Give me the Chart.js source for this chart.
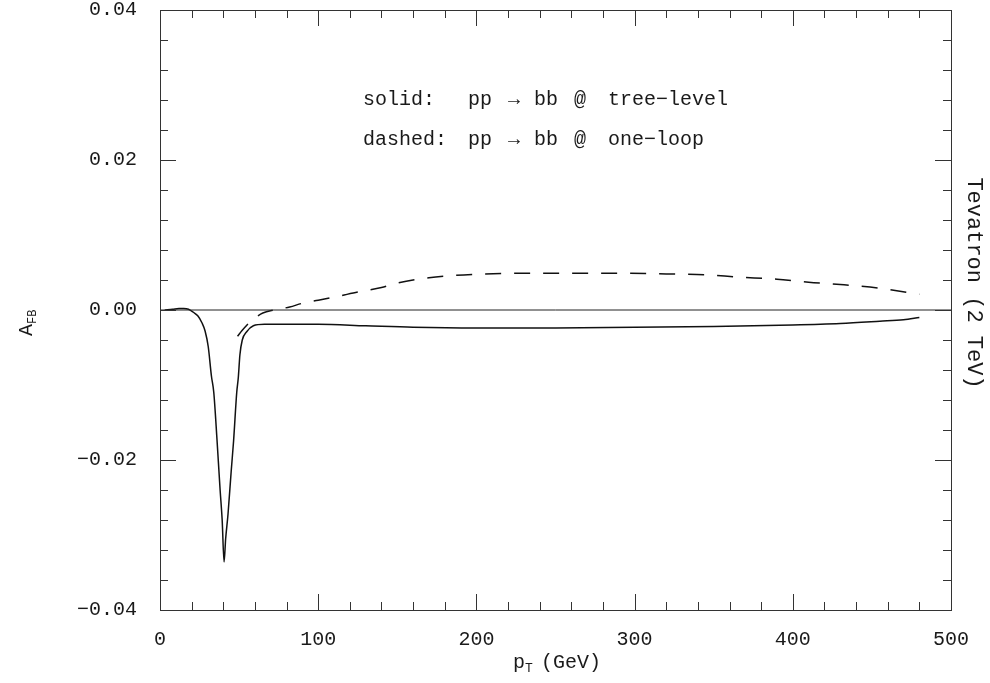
<!DOCTYPE html>
<html>
<head>
<meta charset="utf-8">
<script src="https://cdn.jsdelivr.net/npm/chart.js@4.4.1/dist/chart.umd.min.js"></script>
<style>
  html, body { margin: 0; padding: 0; background: #fff; }
  #wrap { width: 990px; height: 683px; }
</style>
</head>
<body>
<div id="wrap"><canvas id="afbChart" width="990" height="683"></canvas></div>
<script>
// tree-level curve (solid)
const solidPt = [3, 8, 12, 15, 18, 21, 24, 26.5, 28.5, 30.5, 32.5, 34, 36, 38, 39.3, 40.5,
  41.5, 43, 45, 46.5, 48.5, 49.5, 50.5, 52, 54.8, 59, 66, 79, 100, 130, 160, 200, 250, 300,
  350, 400, 430, 455, 470, 480];
const solidAfb = [0.0000, 0.0001, 0.0002, 0.0002, 0.0001, -0.0003, -0.0008, -0.0017, -0.0028,
  -0.0049, -0.0088, -0.0110, -0.0172, -0.0240, -0.0280, -0.0336,
  -0.0305, -0.0272, -0.0215, -0.0175, -0.0110, -0.0090, -0.0060, -0.0040, -0.0029, -0.0021,
  -0.0019, -0.0019, -0.0019, -0.0021, -0.0023, -0.0024, -0.0024, -0.0023,
  -0.0022, -0.0020, -0.0018, -0.0015, -0.0013, -0.0010];

// one-loop curve (dashed)
const dashedPt = [49, 52, 55, 58, 61, 65, 72, 82, 90, 100, 112, 125, 140, 150, 170, 185, 205,
  230, 260, 290, 320, 345, 365, 390, 410, 430, 455, 480];
const dashedAfb = [-0.0035, -0.0027, -0.0020, -0.0014, -0.0009, -0.0004, 0.0000, 0.0004,
  0.0009, 0.0013, 0.0018, 0.0024, 0.0030, 0.0036, 0.0043, 0.0046, 0.0048,
  0.0049, 0.0049, 0.0049, 0.0048, 0.0047, 0.0044, 0.0041, 0.0037, 0.0034, 0.0029, 0.0021];

// zero reference line
const zeroPt = [0, 500];
const zeroAfb = [0, 0];

const xMin = 0, xMax = 500, xMajor = 100, xMinor = 20;
const yMin = -0.04, yMax = 0.04, yMajor = 0.02, yMinor = 0.004;

const legendLines = [
  ['solid:', 'pp', '→', 'bb', '@', 'tree−level'],
  ['dashed:', 'pp', '→', 'bb', '@', 'one−loop']
];

const monoFont = '"Liberation Mono", "DejaVu Sans Mono", monospace';
const inkColor = '#1a1a1a';

function toPoints(xs, ys) {
  return xs.map((v, i) => ({ x: v, y: ys[i] }));
}

function fmtY(v) {
  if (Math.abs(v) < 1e-9) return '0.00';
  return (v < 0 ? '−' : '') + Math.abs(v).toFixed(2);
}

// frame, inward ticks on all four sides, legend text and axis titles
const framePlugin = {
  id: 'frame',
  afterDatasetsDraw(chart) {
    const { ctx, chartArea: a, scales: { x, y } } = chart;
    ctx.save();
    ctx.strokeStyle = '#333';
    ctx.lineWidth = 1;
    ctx.strokeRect(Math.round(a.left) + 0.5, Math.round(a.top) + 0.5,
      Math.round(a.right - a.left), Math.round(a.bottom - a.top));

    ctx.beginPath();
    const nx = Math.round((xMax - xMin) / xMinor);
    for (let i = 0; i <= nx; i++) {
      const v = xMin + i * xMinor;
      const px = Math.round(x.getPixelForValue(v)) + 0.5;
      const len = (v % xMajor === 0) ? 16 : 8;
      ctx.moveTo(px, a.bottom); ctx.lineTo(px, a.bottom - len);
      ctx.moveTo(px, a.top); ctx.lineTo(px, a.top + len);
    }
    const ny = Math.round((yMax - yMin) / yMinor);
    const every = Math.round(yMajor / yMinor);
    for (let i = 0; i <= ny; i++) {
      const v = yMin + i * yMinor;
      const py = Math.round(y.getPixelForValue(v)) + 0.5;
      const len = (i % every === 0) ? 16 : 8;
      ctx.moveTo(a.left, py); ctx.lineTo(a.left + len, py);
      ctx.moveTo(a.right, py); ctx.lineTo(a.right - len, py);
    }
    ctx.stroke();

    // legend text
    ctx.fillStyle = inkColor;
    ctx.font = '20px ' + monoFont;
    ctx.textBaseline = 'middle';
    ctx.textAlign = 'left';
    const cols = [363, 468, 508, 534, 574, 608];
    const rows = [100, 140];
    legendLines.forEach((line, r) => {
      line.forEach((word, c) => ctx.fillText(word, cols[c], rows[r]));
    });

    // x title: p_T (GeV)
    ctx.font = '20px ' + monoFont;
    const xt = 513, yt = 663;
    ctx.fillText('p', xt, yt);
    ctx.font = '13px ' + monoFont;
    ctx.fillText('T', xt + 12, yt + 6);
    ctx.font = '20px ' + monoFont;
    ctx.fillText('(GeV)', xt + 28, yt);

    // y title: A_FB
    ctx.save();
    ctx.translate(27, 336);
    ctx.rotate(-Math.PI / 2);
    ctx.font = '20px ' + monoFont;
    ctx.fillText('A', 0, 0);
    ctx.font = '12px ' + monoFont;
    ctx.fillText('FB', 12, 6);
    ctx.restore();

    // right title
    ctx.save();
    ctx.translate(974, 283);
    ctx.rotate(Math.PI / 2);
    ctx.font = '22px ' + monoFont;
    ctx.textAlign = 'center';
    ctx.fillText('Tevatron (2 TeV)', 0, 0);
    ctx.restore();

    ctx.restore();
  }
};

new Chart(document.getElementById('afbChart').getContext('2d'), {
  type: 'line',
  data: {
    datasets: [
      {
        label: 'zero',
        data: toPoints(zeroPt, zeroAfb),
        borderColor: '#222',
        borderWidth: 1,
        pointRadius: 0,
        fill: false
      },
      {
        label: 'tree-level',
        data: toPoints(solidPt, solidAfb),
        borderColor: '#111',
        borderWidth: 1.5,
        pointRadius: 0,
        cubicInterpolationMode: 'monotone',
        fill: false
      },
      {
        label: 'one-loop',
        data: toPoints(dashedPt, dashedAfb),
        borderColor: '#111',
        borderWidth: 1.5,
        borderDash: [16, 13],
        pointRadius: 0,
        cubicInterpolationMode: 'monotone',
        fill: false
      }
    ]
  },
  options: {
    responsive: false,
    animation: false,
    layout: { padding: { top: 10, right: 39, bottom: 0, left: 0 } },
    plugins: {
      legend: { display: false },
      title: { display: false },
      tooltip: { enabled: false }
    },
    scales: {
      x: {
        type: 'linear',
        min: xMin,
        max: xMax,
        grid: { display: false },
        border: { display: false },
        afterFit: (s) => { s.height = 73; s.paddingLeft = 0; s.paddingRight = 0; },
        ticks: {
          stepSize: xMajor,
          padding: 10,
          maxRotation: 0,
          color: inkColor,
          font: { family: monoFont, size: 20 }
        }
      },
      y: {
        min: yMin,
        max: yMax,
        grid: { display: false },
        border: { display: false },
        afterFit: (s) => { s.width = 160; s.paddingTop = 0; s.paddingBottom = 0; },
        ticks: {
          stepSize: yMajor,
          padding: 15,
          color: inkColor,
          font: { family: monoFont, size: 20 },
          callback: (v) => fmtY(v)
        }
      }
    }
  },
  plugins: [framePlugin]
});
</script>
</body>
</html>
